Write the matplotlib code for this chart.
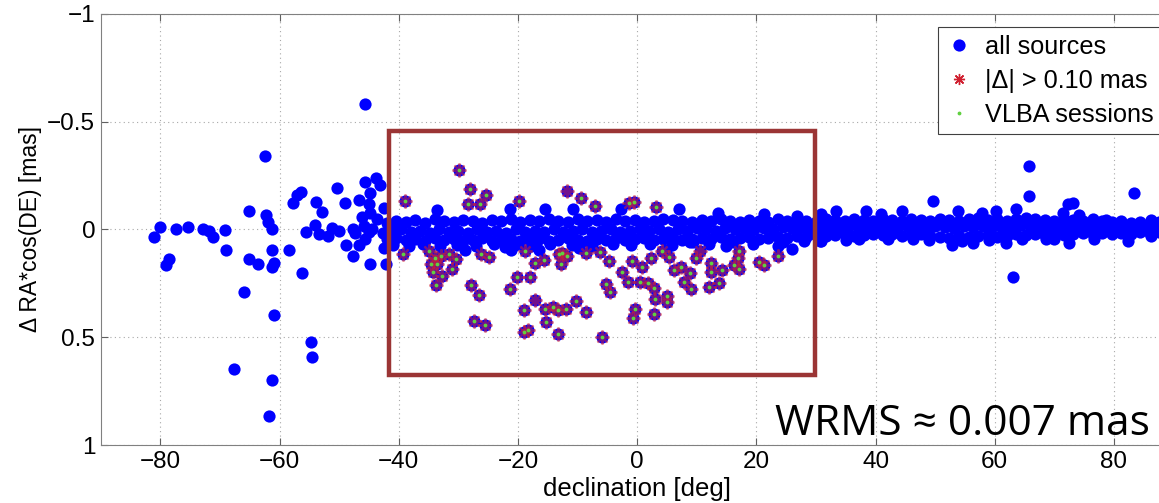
import matplotlib
matplotlib.use("Agg")
import matplotlib.pyplot as plt
from matplotlib.patches import Rectangle

# dense band of sources around zero: (declination, delta) read row by row
band_top = [(-42.0, -0.03), (-40.4, -0.04), (-38.8, -0.035), (-37.2, -0.045), (-35.6, -0.03), (-34.0, -0.05),
            (-32.4, -0.04), (-30.8, -0.035), (-29.2, -0.045), (-27.6, -0.04), (-26.0, -0.03), (-24.4, -0.045),
            (-22.8, -0.04), (-21.2, -0.05), (-19.6, -0.035), (-18.0, -0.045), (-16.4, -0.04), (-14.8, -0.05),
            (-13.2, -0.04), (-11.6, -0.035), (-10.0, -0.05), (-8.4, -0.04), (-6.8, -0.045), (-5.2, -0.035),
            (-3.6, -0.05), (-2.0, -0.04), (-0.4, -0.045), (1.2, -0.035), (2.8, -0.04), (4.4, -0.05),
            (6.0, -0.045), (7.6, -0.04), (9.2, -0.035), (10.8, -0.045), (12.4, -0.04), (14.0, -0.05),
            (15.6, -0.04), (17.2, -0.035), (18.8, -0.045), (20.4, -0.04), (22.0, -0.035), (23.6, -0.05),
            (25.2, -0.04), (26.8, -0.045), (28.4, -0.04), (30.0, -0.035), (31.6, -0.05), (33.2, -0.045),
            (34.8, -0.04), (36.4, -0.05), (38.0, -0.045), (39.6, -0.04), (41.2, -0.05), (42.8, -0.045),
            (44.4, -0.04), (46.0, -0.05), (47.6, -0.045), (49.2, -0.04), (50.8, -0.05), (52.4, -0.045),
            (54.0, -0.04), (55.6, -0.05), (57.2, -0.055), (58.8, -0.045), (60.4, -0.05), (62.0, -0.04),
            (63.6, -0.05), (65.2, -0.055), (66.8, -0.05), (68.4, -0.045), (70.0, -0.04), (71.6, -0.05),
            (73.2, -0.045), (74.8, -0.04), (76.4, -0.05), (78.0, -0.04), (79.6, -0.035), (81.2, -0.04),
            (82.8, -0.03), (84.4, -0.035), (86.0, -0.03), (87.6, -0.035), (89.2, -0.025)]

band_mid = [(-41.2, 0.005), (-39.6, 0.0), (-38.0, 0.01), (-36.4, 0.005), (-34.8, 0.015), (-33.2, 0.0),
            (-31.6, 0.01), (-30.0, 0.005), (-28.4, 0.015), (-26.8, 0.0), (-25.2, 0.01), (-23.6, 0.005),
            (-22.0, 0.015), (-20.4, 0.0), (-18.8, 0.01), (-17.2, 0.005), (-15.6, 0.01), (-14.0, 0.0),
            (-12.4, 0.01), (-10.8, 0.005), (-9.2, 0.0), (-7.6, 0.01), (-6.0, 0.005), (-4.4, 0.0),
            (-2.8, 0.01), (-1.2, 0.005), (0.4, 0.0), (2.0, 0.005), (3.6, 0.0), (5.2, 0.01), (6.8, 0.0),
            (8.4, 0.005), (10.0, -0.005), (11.6, 0.0), (13.2, 0.005), (14.8, -0.005), (16.4, 0.0),
            (18.0, -0.005), (19.6, 0.0), (21.2, -0.005), (22.8, 0.0), (24.4, -0.01), (26.0, -0.005),
            (27.6, -0.01), (29.2, 0.0), (30.8, -0.01), (32.4, -0.005), (34.0, -0.01), (35.6, -0.015),
            (37.2, -0.005), (38.8, -0.01), (40.4, -0.015), (42.0, -0.01), (43.6, -0.005), (45.2, -0.015),
            (46.8, -0.01), (48.4, -0.005), (50.0, -0.015), (51.6, -0.01), (53.2, -0.005), (54.8, -0.015),
            (56.4, -0.01), (58.0, -0.015), (59.6, -0.01), (61.2, -0.005), (62.8, -0.015), (64.4, -0.02),
            (66.0, -0.01), (67.6, -0.015), (69.2, -0.01), (70.8, -0.015), (72.4, -0.005), (74.0, -0.01),
            (75.6, -0.015), (77.2, -0.01), (78.8, -0.005), (80.4, -0.01), (82.0, -0.015), (83.6, -0.01),
            (85.2, -0.005), (86.8, -0.01), (88.4, -0.005)]

band_bot = [(-42.0, 0.045), (-40.4, 0.04), (-38.8, 0.05), (-37.2, 0.045), (-35.6, 0.055), (-34.0, 0.04),
            (-32.4, 0.05), (-30.8, 0.045), (-29.2, 0.055), (-27.6, 0.05), (-26.0, 0.04), (-24.4, 0.055),
            (-22.8, 0.05), (-21.2, 0.045), (-19.6, 0.055), (-18.0, 0.05), (-16.4, 0.045), (-14.8, 0.055),
            (-13.2, 0.05), (-11.6, 0.04), (-10.0, 0.05), (-8.4, 0.055), (-6.8, 0.045), (-5.2, 0.05),
            (-3.6, 0.04), (-2.0, 0.05), (-0.4, 0.045), (1.2, 0.04), (2.8, 0.05), (4.4, 0.045), (6.0, 0.04),
            (7.6, 0.05), (9.2, 0.045), (10.8, 0.04), (12.4, 0.045), (14.0, 0.035), (15.6, 0.045),
            (17.2, 0.04), (18.8, 0.035), (20.4, 0.045), (22.0, 0.04), (23.6, 0.035), (25.2, 0.04),
            (26.8, 0.03), (28.4, 0.035), (30.0, 0.025), (31.6, 0.03), (33.2, 0.025), (34.8, 0.02),
            (36.4, 0.03), (38.0, 0.025), (39.6, 0.02), (41.2, 0.025), (42.8, 0.02), (44.4, 0.03),
            (46.0, 0.025), (47.6, 0.02), (49.2, 0.03), (50.8, 0.035), (52.4, 0.04), (54.0, 0.03),
            (55.6, 0.035), (57.2, 0.03), (58.8, 0.025), (60.4, 0.035), (62.0, 0.03), (63.6, 0.02),
            (65.2, 0.025), (66.8, 0.02), (68.4, 0.025), (70.0, 0.02), (71.6, 0.025), (73.2, 0.02),
            (74.8, 0.015), (76.4, 0.02), (78.0, 0.015), (79.6, 0.02), (81.2, 0.015), (82.8, 0.02),
            (84.4, 0.01), (86.0, 0.015), (87.6, 0.01), (89.2, 0.015)]

# lower fringe of the band, thicker on the southern side
band_low = [(-41.0, 0.07), (-38.2, 0.075), (-36.0, 0.065), (-33.0, 0.075), (-30.2, 0.07), (-27.0, 0.075),
            (-24.0, 0.065), (-20.5, 0.07), (-17.8, 0.075), (-14.6, 0.065), (-11.0, 0.07), (-7.5, 0.075),
            (-4.0, 0.065), (-1.0, 0.07), (2.2, 0.065), (5.8, 0.07), (8.8, 0.06), (12.0, 0.065),
            (16.0, 0.06), (19.5, 0.065), (24.5, 0.06), (28.0, 0.055), (35.0, 0.05), (42.0, 0.045),
            (49.0, 0.05), (54.5, 0.055), (59.0, 0.05), (64.5, 0.045), (70.0, 0.045)]

# sources sticking out of the band edges
band_edge = [(-33.6, -0.09), (-21.4, -0.093), (-15.4, -0.095), (-10.8, -0.093), (-2.7, -0.095), (7.0, -0.093),
             (13.5, -0.077), (21.2, -0.074), (26.9, -0.062), (30.9, -0.074), (33.4, -0.085), (38.4, -0.085),
             (40.9, -0.074), (44.5, -0.088), (63.6, -0.093), (71.4, -0.077), (74.2, -0.065), (78.7, -0.046),
             (86.2, -0.046), (-28.8, 0.093), (-22.1, 0.082), (-21.2, 0.093), (-16.4, 0.093), (-9.7, 0.085),
             (4.85, 0.093), (9.3, 0.059), (14.9, 0.077), (23.7, 0.077), (25.9, 0.09), (30.9, 0.054),
             (30.6, 0.054), (37.3, 0.046), (46.2, 0.046), (52.9, 0.07), (56.3, 0.062), (61.9, 0.062),
             (68.6, 0.046), (72.5, 0.062), (76.7, 0.043), (82.3, 0.054), (86.2, 0.031)]

# scattered sources outside the band
outliers = [(-81.0, 0.036), (-80.05, -0.011), (-79.0, 0.167), (-78.6, 0.139), (-77.4, -0.003), (-75.4, -0.011),
            (-72.9, 0.0), (-71.9, 0.008), (-71.2, 0.036), (-69.1, 0.003), (-68.9, 0.093), (-67.6, 0.646),
            (-65.9, 0.291), (-65.2, -0.085), (-65.1, 0.139), (-63.6, 0.159), (-62.4, -0.34), (-62.3, -0.065),
            (-62.0, -0.034), (-61.2, 0.0), (-61.2, 0.093), (-61.0, 0.155), (-61.3, 0.175), (-61.0, 0.396),
            (-61.3, 0.699), (-61.7, 0.866), (-58.4, 0.096), (-57.8, -0.121), (-57.1, -0.162), (-56.4, -0.175),
            (-56.3, 0.201), (-55.5, 0.011), (-54.8, 0.523), (-54.6, 0.591), (-53.9, -0.129), (-54.0, -0.023),
            (-53.3, 0.023), (-52.8, -0.082), (-51.9, 0.031), (-51.2, -0.008), (-50.0, 0.008), (-50.4, -0.193),
            (-49.0, -0.124), (-48.8, 0.07), (-47.7, 0.124), (-47.7, 0.0), (-47.4, 0.015), (-46.6, 0.07),
            (-45.6, 0.046), (-45.8, -0.015), (-46.6, -0.139), (-46.2, -0.059), (-45.6, -0.583), (-45.6, -0.22),
            (-44.8, -0.17), (-45.0, -0.116), (-44.9, -0.077), (-43.8, -0.237), (-43.1, -0.206), (-44.8, 0.162),
            (-45.0, 0.01), (-44.5, 0.0), (-43.7, -0.05), (-42.4, -0.1), (-42.7, 0.015), (-42.4, 0.085),
            (-42.1, 0.162), (65.8, -0.294), (65.7, -0.155), (63.0, 0.22), (83.3, -0.17), (49.7, -0.131),
            (53.9, -0.085), (72.2, -0.12), (73.1, -0.124), (57.9, -0.077), (60.2, -0.085)]

# sources with |delta| > 0.10 mas (inside the marked region)
large_dec = [-29.95, -38.9, -28.0, -25.4, -28.3, -26.3, -19.8, -11.8, -9.5, -7.1, -1.4, -0.5, 3.2,
             -39.3, -35.0, -34.0, -32.9, -31.5, -30.4, -33.5, -34.6, -34.3, -32.7, -31.0, -33.7,
             -26.2, -24.8, -27.9, -26.6, -27.3, -25.5, -18.9, -17.2, -15.6, -20.2, -17.9, -21.3,
             -17.2, -19.0, -15.4, -14.2, -13.3, -11.9, -15.3, -19.0, -18.3, -13.3, -10.3, -8.5, -5.9,
             -13.1, -12.6, -11.7, -12.8, -8.5, -6.3, -4.8, -5.2, -4.5, -2.6, -1.6, -0.9, 0.75,
             0.4, 1.8, 2.8, 2.4, 3.05, 4.95, 4.95, -0.35, -0.75, 2.8, 4.2, 5.3, 6.1, 7.4,
             8.8, 7.9, 9.1, 9.8, 10.55, 12.4, 12.4, 14.2, 12.0, 13.8, 17.1, 16.9, 16.2, 17.1,
             20.5, 21.2, 23.6]
large_val = [-0.278, -0.131, -0.189, -0.162, -0.116, -0.116, -0.131, -0.178, -0.144, -0.111, -0.124, -0.128, -0.105,
             0.116, 0.10, 0.132, 0.124, 0.116, 0.139, 0.162, 0.162, 0.198, 0.217, 0.181, 0.258,
             0.116, 0.127, 0.258, 0.305, 0.425, 0.445, 0.10, 0.155, 0.142, 0.220, 0.220, 0.274,
             0.325, 0.374, 0.371, 0.359, 0.374, 0.368, 0.429, 0.475, 0.467, 0.487, 0.333, 0.384, 0.498,
             0.116, 0.108, 0.121, 0.159, 0.108, 0.104, 0.144, 0.251, 0.291, 0.198, 0.243, 0.144, 0.173,
             0.243, 0.247, 0.271, 0.132, 0.322, 0.309, 0.336, 0.371, 0.413, 0.391, 0.101, 0.127, 0.186, 0.173,
             0.201, 0.243, 0.276, 0.132, 0.10, 0.155, 0.196, 0.189, 0.266, 0.247, 0.101, 0.132, 0.166, 0.181,
             0.150, 0.166, 0.121]

# large-delta sources not observed in the VLBA sessions
non_vlba = [(-11.8, -0.178), (10.55, 0.10), (-17.2, 0.325)]

all_pts = band_top + band_mid + band_bot + band_low + band_edge + outliers + list(zip(large_dec, large_val))
all_dec = [p[0] for p in all_pts]
all_val = [p[1] for p in all_pts]
vlba = [p for p in zip(large_dec, large_val) if p not in non_vlba]
vlba_dec = [p[0] for p in vlba]
vlba_val = [p[1] for p in vlba]

plt.rcParams['font.family'] = ['Liberation Sans', 'DejaVu Sans']

fig = plt.figure(figsize=(11.59, 5.03), dpi=100)
ax = fig.add_axes([0.0869, 0.1153, 0.9257, 0.8569])

ax.plot(all_dec, all_val, 'o', color='#0000ff', markersize=8.8, markeredgewidth=0, label='all sources')
# MATLAB-style asterisk marker
ax.plot(large_dec, large_val, marker=(8, 2, 0), ls='none', color='#d02030', markersize=10, markeredgewidth=1.6,
        alpha=0.55, label='|\u0394| > 0.10 mas')
ax.plot(vlba_dec, vlba_val, '.', color='#60d040', markersize=3.5, label='VLBA sessions')

ax.set_xlim(-90, 90)
ax.set_ylim(1, -1)
ax.set_xticks([-80, -60, -40, -20, 0, 20, 40, 60, 80])
ax.set_yticks([-1, -0.5, 0, 0.5, 1])
ax.set_yticklabels(['\u22121', '\u22120.5', '0', '0.5', '1'])
ax.set_xticklabels(['\u221280', '\u221260', '\u221240', '\u221220', '0', '20', '40', '60', '80'])
ax.grid(True, linestyle=(0, (1, 3)), color='#a8a8a8', linewidth=0.8)
ax.tick_params(direction='in', length=5, labelsize=17.5, top=True, right=True, colors='#606060',
               labelcolor='black', pad=4)
for s in ax.spines.values():
    s.set_color('#808080')

ax.set_xlabel('declination [deg]', fontsize=18.5, labelpad=3)
ax.set_ylabel('\u0394 RA*cos(DE) [mas]', fontsize=16.5, labelpad=4)

# highlighted region
ax.add_patch(Rectangle((-41.6, -0.459), 71.5, 1.136, fill=False, edgecolor='#9b3535', linewidth=3.2, zorder=5))

leg = ax.legend(loc='upper left', bbox_to_anchor=(938 / 1159, 1 - 27 / 503), bbox_transform=fig.transFigure,
                fontsize=18.2, frameon=True, fancybox=False, framealpha=1, handletextpad=0.45, borderpad=0.3,
                labelspacing=0.4, handlelength=1.1, borderaxespad=0)
leg.get_frame().set_edgecolor('#404040')
leg.get_frame().set_linewidth(0.8)
for h in leg.legend_handles:
    h.set_alpha(1)
leg.legend_handles[1].set_markersize(8)
leg.legend_handles[1].set_markeredgewidth(1)

fig.text(0.992, 0.135, 'WRMS \u2248 0.007 mas', fontsize=30.5, family=['Open Sans', 'DejaVu Sans'], ha='right',
         va='baseline')

fig.savefig('out.png', dpi=100)
